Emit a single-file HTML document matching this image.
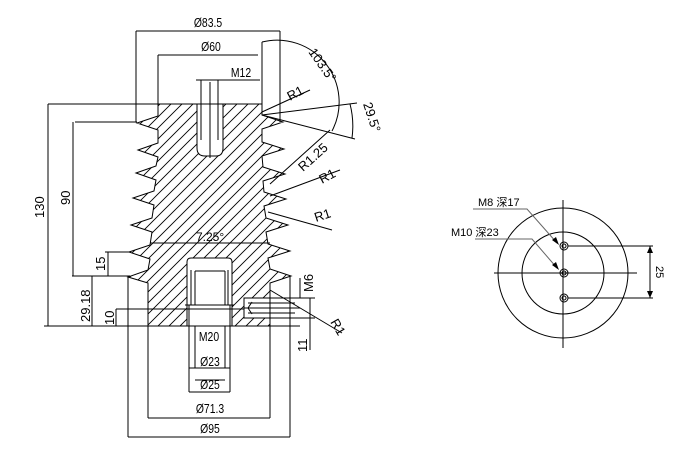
<!DOCTYPE html>
<html><head><meta charset="utf-8"><style>
html,body{margin:0;padding:0;background:#fff;}
svg{display:block;}
text{font-family:"Liberation Sans","Noto Sans CJK SC",sans-serif;fill:#000;}
.t{font-size:13px;}
</style></head><body>
<svg width="676" height="453" viewBox="0 0 676 453" xmlns="http://www.w3.org/2000/svg">
<defs>
<pattern id="h" width="11" height="11" patternUnits="userSpaceOnUse">
<path d="M-1,12 L12,-1 M-4,4 L4,-4 M7,15 L15,7" stroke="#000" stroke-width="0.9"/>
</pattern>
</defs>
<g stroke="#000" stroke-width="1" fill="none">
<path fill="url(#h)" d="M158,104 L262,104 L262,115
L283,122 L262,129 L262,142 L284,149 L262,156 L263,167 L285,174 L263,181 L264,192 L286,199 L264,206 L266,218 L288,225 L266,232 L268,244 L290,251 L268,258 L270,269 L291,276 L270,283 L270,326
L148,326 L148,283 L128,277 L148,270 L150,259 L129,252 L150,245 L152,232 L131,225 L152,218 L154,205 L133,198 L154,191 L156,180 L136,173 L156,166 L158,157 L138,150 L158,143 L158,130 L137,123 L158,116 Z"/>
<path fill="#fff" d="M187,326 L187,262 Q187,258 191,258 L228,258 Q232,258 232,262 L232,326 Z"/>
<path d="M191,270 L191,305 M228,270 L228,305 M195,271 L225,271 M195,271 L195,305 M225,271 L225,305 M185,305 L234,305"/>
<path fill="#fff" d="M244,298 L270,298 L270,318 L244,318 Z"/>
<path d="M252,302 L248,308 L252,314 M244,308 L300,308 M248,303 L295,303 M248,313 L295,313"/>
<path d="M189,305 L189,392 M230,305 L230,392 M195,326 L195,368 M225,326 L225,368"/>
<path fill="#fff" d="M197,104 L197,148 Q197,156 205,156 L216,156 Q223,156 223,148 L223,104 Z"/>
<path d="M201,80 L201,140 M218,80 L218,140 M196,80 L223,80 M210,82 L210,158"/>
<path d="M150,243 L270,243"/>
<path d="M136,31 L280,31 M136,31 L136,122 M280,31 L280,122 M158,55 L258,55 M158,55 L158,104 M223,80 L260,80"/>
<path d="M262,42 L262,104"/>
<path d="M262,42 A62,62 0 0 1 332,131"/>
<path d="M262,115 L357,103 M262,115 L355,139 M350,104 A88,88 0 0 1 352,138"/>
<path d="M262,112 L310,90"/>
<path d="M270,184 L330,130 M270,196 L340,170 M268,212 L332,230"/>
<path d="M48,104 L158,104 M48,104 L48,326 M75,122 L137,122 M73,122 L73,276 M105,252 L130,252 M108,252 L108,276 M72,276 L130,276 M92,276 L92,326 M116,309 L244,309 M116,309 L116,326 M44,326 L300,326"/>
<path d="M310,298 L310,350 M270,298 L315,298 M270,318 L315,318 M270,290 L342,333"/>
<path d="M300,278 L300,298"/>
<path d="M195,380 L225,380 M189,368 L230,368 M189,392 L230,392 M148,326 L148,418 M270,326 L270,418 M148,418 L270,418 M128,277 L128,437 M290,276 L290,437 M128,437 L290,437"/>
<circle cx="563" cy="273" r="65"/>
<circle cx="563" cy="273" r="41"/>
<path d="M563,200 L563,348 M494,273 L637,273"/>
<circle cx="564" cy="246" r="4"/><circle cx="564" cy="246" r="2"/>
<circle cx="564" cy="273" r="4"/><circle cx="564" cy="273" r="2"/>
<circle cx="564" cy="298" r="4"/><circle cx="564" cy="298" r="2"/>
<path d="M568,246 L653,246 M568,298 L653,298 M650,246 L650,298"/>
<path d="M473,209 L527,209 L557,243 M475,239 L532,239 L557,268" stroke="#666"/>
</g>
<g fill="#000">
<path d="M650,246 L647,253 L653,253 Z M650,298 L647,291 L653,291 Z M559,245 L552,240 L556,237 Z M559,270 L552,265 L556,262 Z"/>
</g>
<g class="t">
<text x="208" y="27" text-anchor="middle" transform="translate(208,0) scale(0.8,1) translate(-208,0)">Ø83.5</text>
<text x="211" y="51" text-anchor="middle" transform="translate(211,0) scale(0.8,1) translate(-211,0)">Ø60</text>
<text x="241" y="77" text-anchor="middle" transform="translate(241,0) scale(0.8,1) translate(-241,0)">M12</text>
<text transform="translate(308,52) rotate(55)">103.5°</text>
<text transform="translate(363,104) rotate(72)">29.5°</text>
<text transform="translate(290,101) rotate(-28)">R1</text>
<text transform="translate(303,172) rotate(-42)">R1.25</text>
<text transform="translate(322,184) rotate(-28)">R1</text>
<text transform="translate(316,222) rotate(-18)">R1</text>
<text x="196" y="241" style="font-size:12px">7.25°</text>
<text transform="translate(44,218) rotate(-90)">130</text>
<text transform="translate(70,205) rotate(-90)">90</text>
<text transform="translate(105,271) rotate(-90)">15</text>
<text transform="translate(90,322) rotate(-90)">29.18</text>
<text transform="translate(114,325) rotate(-90)">10</text>
<text transform="translate(313,292) rotate(-90)">M6</text>
<text transform="translate(307,352) rotate(-90)">11</text>
<text transform="translate(330,322) rotate(60)">R1</text>
<text x="209" y="341" text-anchor="middle" transform="translate(209,0) scale(0.8,1) translate(-209,0)">M20</text>
<text x="210" y="366" text-anchor="middle" transform="translate(210,0) scale(0.8,1) translate(-210,0)">Ø23</text>
<text x="210" y="389" text-anchor="middle" transform="translate(210,0) scale(0.8,1) translate(-210,0)">Ø25</text>
<text x="210" y="413" text-anchor="middle" transform="translate(210,0) scale(0.8,1) translate(-210,0)">Ø71.3</text>
<text x="210" y="433" text-anchor="middle" transform="translate(210,0) scale(0.8,1) translate(-210,0)">Ø95</text>
<text x="478" y="206" style="font-size:11px">M8 深17</text>
<text x="451" y="236" style="font-size:11px">M10 深23</text>
<text transform="translate(656,266) rotate(90)" style="font-size:11px">25</text>
</g>
</svg>
</body></html>
